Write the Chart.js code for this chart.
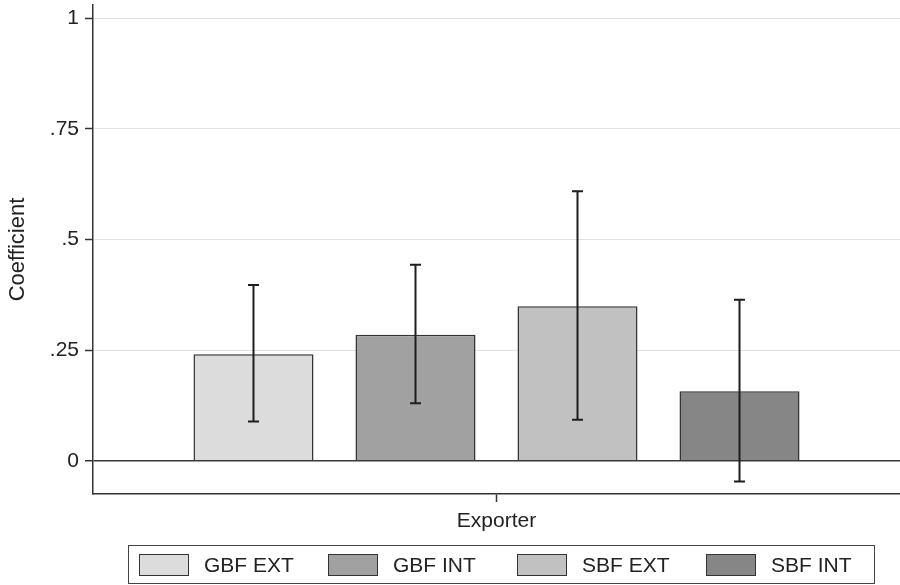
<!DOCTYPE html>
<html>
<head>
<meta charset="utf-8">
<script src="https://cdn.jsdelivr.net/npm/chart.js@4/dist/chart.umd.min.js"></script>
<style>
  body { margin: 0; background: #fff; }
  #wrap { position: relative; width: 900px; height: 585px; }
  #legend {
    position: absolute; left: 128px; top: 545px; width: 735px; height: 37px;
    border: 1.5px solid #444; display: grid; grid-template-columns: repeat(4, 189px);
    padding-left: 10px; box-sizing: content-box;
    font-family: "Liberation Sans", Arial, sans-serif; font-size: 21px; color: #222;
  }
  .item { display: flex; align-items: center; }
  .sw { width: 48px; height: 20px; border: 1.5px solid #333; margin-right: 15px; }
</style>
</head>
<body>
<div id="wrap">
  <canvas id="chart" width="900" height="585"></canvas>
  <div id="legend"></div>
</div>
<script>
// Datos
const categories = ['Exporter'];
const seriesNames = ['GBF EXT', 'GBF INT', 'SBF EXT', 'SBF INT'];
const coefs = [0.241, 0.285, 0.349, 0.157];
const ciLow = [0.089, 0.130, 0.093, -0.047];
const ciHigh = [0.397, 0.443, 0.609, 0.364];
const yTicks = [0, 0.25, 0.5, 0.75, 1];
const yTickLabels = ['0', '.25', '.5', '.75', '1'];
const colors = ['#dcdcdc', '#a1a1a1', '#c1c1c1', '#868686'];

Chart.defaults.font.family = '"Liberation Sans", Arial, sans-serif';
Chart.defaults.color = '#222';

// Barras de error
const errorBars = {
    id: 'errorBars',
    afterDatasetsDraw(chart) {
        const ctx = chart.ctx;
        const y = chart.scales.y;
        ctx.save();
        ctx.strokeStyle = '#1e1e1e';
        ctx.lineWidth = 2;
        chart.data.datasets.forEach((ds, i) => {
            const bar = chart.getDatasetMeta(i).data[0];
            const x = bar.x;
            const lo = y.getPixelForValue(ciLow[i]);
            const hi = y.getPixelForValue(ciHigh[i]);
            ctx.beginPath();
            ctx.moveTo(x, lo); ctx.lineTo(x, hi);
            ctx.moveTo(x - 5.5, lo); ctx.lineTo(x + 5.5, lo);
            ctx.moveTo(x - 5.5, hi); ctx.lineTo(x + 5.5, hi);
            ctx.stroke();
        });
        ctx.restore();
    }
};

new Chart(document.getElementById('chart'), {
    type: 'bar',
    data: {
        labels: categories,
        datasets: seriesNames.map((name, i) => ({
            label: name,
            data: [coefs[i]],
            backgroundColor: colors[i],
            borderColor: '#333',
            borderWidth: 1.5,
            categoryPercentage: 0.803,
            barPercentage: 0.741
        }))
    },
    options: {
        responsive: false,
        animation: false,
        layout: { padding: { top: 5, left: 0, right: 0, bottom: 0 } },
        plugins: { legend: { display: false }, tooltip: { enabled: false } },
        scales: {
            x: {
                grid: { drawOnChartArea: false, offset: false, tickLength: 8, tickColor: '#333', tickWidth: 1.5 },
                border: { display: true, color: '#333', width: 1.5 },
                ticks: { font: { size: 21 }, color: '#222', padding: 7 },
                afterFit(scale) {
                    scale.height = 91;
                    scale.paddingLeft = 0;
                    scale.paddingRight = 0;
                }
            },
            y: {
                min: -0.075,
                max: 1.03,
                afterBuildTicks(scale) {
                    scale.ticks = yTicks.map(v => ({ value: v }));
                },
                grid: {
                    color: c => (c.tick && c.tick.value === 0) ? '#3a3a3a' : '#e2e2e2',
                    lineWidth: c => (c.tick && c.tick.value === 0) ? 1.5 : 1,
                    tickLength: 8,
                    tickColor: '#333',
                    tickWidth: 1.5
                },
                border: { display: true, color: '#333', width: 1.5 },
                ticks: {
                    font: { size: 21 },
                    color: '#222',
                    padding: 6,
                    callback: v => yTickLabels[yTicks.indexOf(v)]
                },
                title: {
                    display: true,
                    text: 'Coefficient',
                    font: { size: 22 },
                    color: '#222',
                    padding: { top: 5, bottom: 0 }
                },
                afterFit(scale) {
                    scale.width = 93;
                    scale.paddingTop = 0;
                    scale.paddingBottom = 0;
                }
            }
        }
    },
    plugins: [errorBars]
});

// Leyenda
document.getElementById('legend').innerHTML = seriesNames.map((name, i) =>
    `<div class="item"><span class="sw" style="background:${colors[i]}"></span>${name}</div>`
).join('');
</script>
</body>
</html>
